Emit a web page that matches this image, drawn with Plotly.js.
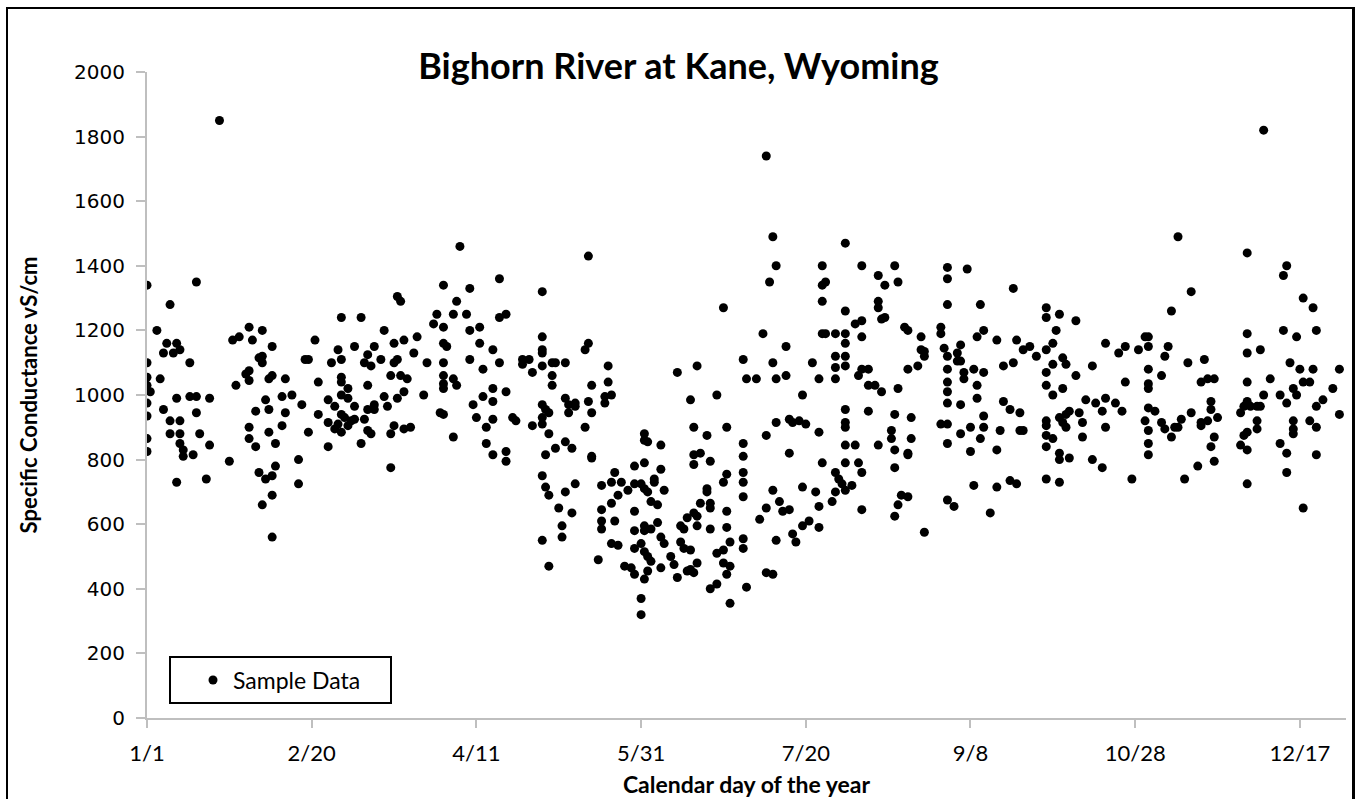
<!DOCTYPE html>
<html>
<head>
<meta charset="utf-8">
<script src="https://cdn.plot.ly/plotly-3.0.1.min.js"></script>
<style>
  html, body { margin: 0; padding: 0; background: #ffffff; }
  #wrap { position: relative; width: 1357px; height: 799px; overflow: hidden; }
  #chart { width: 1357px; height: 799px; }
  #frame { position: absolute; left: 6px; top: 7px; width: 1344px; height: 820px;
           border-left: 2px solid #000; border-top: 2px solid #000; border-right: 3px solid #000;
           pointer-events: none; }
</style>
</head>
<body>
<div id="wrap">
  <div id="chart"></div>
  <div id="frame"></div>
</div>
<script>
// Calendar day of the year (1 = Jan 1) and specific conductance, in segments
const daysJanFeb = [23,1,16,8,4,7,10,6,9,11,1,14,1,5,1,2,1,10,14,16,20,6,1,16,8,11,8,11,17,1,11,12,20,1,12,15,10,19,26,27,29,32,36,33,39,35,36,36,28,31,32,32,38,39,43,37,42,45,34,38,43,42,32,32,34,38,40,40,35,37,39,39,36,39];
const condJanFeb = [1850,1340,1350,1280,1200,1160,1160,1130,1130,1140,1100,1100,1055,1050,1030,1010,975,990,995,995,990,955,935,945,920,920,880,880,880,865,850,830,845,825,810,815,730,740,795,1170,1180,1210,1200,1170,1150,1115,1120,1100,1030,1065,1075,1045,1050,1060,1050,985,995,1000,950,955,945,905,900,865,840,885,850,780,760,740,750,690,660,560];

const daysFebApr = [48,47,47,50,49,50,52,53,53,56,56,56,58,57,59,60,60,60,60,60,62,62,64,60,61,59,58,60,63,64,62,64,66,68,67,69,70,72,68,68,70,70,67,68,69,66,73,76,79,77,78,76,77,75,78,80,79,73,77,74,76,75,79,81,75,82,83,86,85,91,89,88,91,91,92,91,91,91,91,90,91];
const condFebApr = [970,800,725,885,1110,1110,1170,1040,940,915,840,985,965,1100,1140,1110,1240,1055,1040,1000,1020,990,965,940,930,910,895,885,920,925,905,1150,1240,1125,1100,1090,1150,1110,1030,955,970,955,925,890,880,850,1200,1160,1170,1305,1290,1100,1110,1060,1060,1050,1010,995,990,965,905,880,895,900,775,1130,1180,1100,1000,1340,1250,1220,1210,1160,1150,1100,1060,1035,1020,945,940];

const daysAprMay = [94,96,99,95,94,98,99,102,102,106,99,103,108,94,95,106,103,106,100,110,101,106,104,104,106,110,110,108,108,110,112,113,118,115,117,115,118,121,121,121,121,121,124,125,128,124,124,121,122,123,121,121,123,122,125,128,130,121,122,123,128,131,126,130,127,127,121,123,135,135,134,136,128,129,131,131,129,135,136,134,136,136];
const condAprMay = [870,1460,1330,1290,1250,1250,1200,1210,1160,1140,1110,1080,1100,1050,1030,1020,995,980,970,1010,930,925,900,850,815,825,795,1360,1240,1250,930,920,905,1110,1110,1095,1070,1320,1180,1140,1130,1090,1100,1100,1100,1060,1030,970,955,945,930,910,880,815,835,855,835,750,715,690,700,725,650,635,595,560,550,470,1430,1160,1140,1030,990,970,975,965,945,980,945,900,805,810];

const daysMayJul = [139,139,139,139,138,141,141,140,142,140,143,142,145,144,142,143,142,144,146,148,149,152,152,153,157,152,149,149,147,151,152,153,155,155,157,158,154,156,149,149,152,152,154,156,149,151,152,153,154,157,158,157,153,152,151,151,160,161,162,163,164,163,164,166,165,166,168,167,162,168,166,167,171,167,169,172,167,171,171,169,172,172,165,167,168,168,172,176,174,177,177,176,177,177,174,178,178,176,177,174,172,178,182,183,182,182,182,182,182,182,182,183,176];
const condMayJul = [720,645,610,585,490,1090,1040,995,1000,975,760,730,730,690,665,610,540,535,470,465,445,880,860,855,845,790,780,725,705,725,710,700,740,730,770,705,670,660,640,580,595,580,585,605,525,540,515,500,485,560,540,465,455,430,370,320,500,475,435,595,585,545,525,520,455,460,480,450,1070,1090,985,900,875,815,820,795,785,710,700,665,665,650,620,635,625,595,585,1270,1000,900,755,730,640,590,510,545,470,480,445,415,400,355,1110,1050,850,810,760,730,685,555,525,405,520];

const daysJulAug = [189,191,192,190,188,195,191,186,192,195,200,192,189,196,197,199,201,196,191,193,194,196,189,187,192,197,198,200,200,202,189,191,203,205,206,206,207,206,205,206,204,205,205,206,207,210,213,213,210,210,210,213,213,213,213,216,218,218,213,213,213,213,216,213,217,218,210,211,212,213,215,210,209,218,218,223,225,223,223,224,225,218,220,217,220,222,224,220,223,228,227,227,228,228,229,228,229,228,229];
const condJulAug = [1740,1490,1400,1350,1190,1150,1100,1050,1050,1060,1000,915,875,925,915,920,910,820,705,670,640,645,650,615,550,570,545,715,595,610,450,445,1100,1050,1400,1340,1350,1290,885,790,700,655,590,1190,1190,1190,1190,1160,1120,1085,1050,1120,1090,1260,1470,1220,1230,1180,955,915,900,845,845,790,790,760,760,740,725,705,720,700,670,645,1400,1370,1340,1290,1270,1235,1240,1080,1080,1060,1030,1030,1010,950,845,940,890,865,830,775,660,625,1020,1400,1350];

const daysAugOct = [231,232,236,236,237,237,235,232,233,233,232,232,230,232,237,244,244,250,244,254,242,242,243,244,244,244,244,244,248,242,244,244,248,247,247,248,249,249,248,251,251,244,246,252,253,255,252,255,253,253,255,255,254,257,259,259,260,259,261,264,264,265,267,269,271,261,263,266,266,267,263,265,274,274,274,274,274,274,274,274,274,274];
const condAugOct = [1210,1200,1180,1140,1135,1120,1090,1080,930,865,820,815,690,685,575,1395,1360,1390,1280,1280,1210,1190,1145,1120,1080,1040,1010,975,970,910,910,850,1155,1130,1105,1105,1070,1050,880,900,825,675,655,720,1180,1200,1080,1070,1030,990,935,900,865,635,715,830,890,1170,1090,1100,1330,1170,1140,1150,1120,980,955,945,890,890,735,725,1270,1240,1140,1070,1030,920,905,875,840,740];

const daysOctNov = [278,283,277,276,276,279,280,283,279,276,276,278,280,281,279,280,284,285,285,278,278,281,278,288,291,288,292,286,289,291,292,292,295,297,298,296,298,300,302,304,305,305,305,305,305,305,307,304,305,309,310,312,313,314,315,305,305,310,309,311,312,314,318,317,316,318,320];
const condOctNov = [1250,1230,1200,1160,1095,1115,1095,1060,1020,1000,865,930,940,950,915,900,945,915,870,820,800,805,730,800,775,1090,1160,985,975,950,990,900,975,950,1040,1130,1150,740,1140,1180,1180,1150,1080,1035,1020,960,950,920,890,915,895,870,900,900,925,850,815,1120,1060,1150,1260,1490,1320,1100,740,945,780];

const daysNovDec = [340,335,347,346,352,355,335,335,339,346,350,356,322,321,323,325,324,324,326,323,321,321,325,324,325,335,335,334,333,336,338,339,340,342,338,338,335,334,333,335,335,348,351,355,352,354,349,350,345,347,361,363,358,356,363,349,349,349,354,356,345,347,356,347,352];
const condNovDec = [1820,1440,1400,1370,1300,1270,1190,1130,1140,1200,1180,1200,1110,1040,1050,1050,980,955,930,920,915,905,870,840,795,1040,980,965,945,965,965,965,1000,1050,920,895,885,875,845,830,725,1100,1080,1080,1040,1040,1020,1000,1000,975,1020,1080,985,965,940,920,895,880,920,900,850,820,815,760,650];

// Axis ticks: every 50 days, labelled by month/day
const tickDays = [1, 51, 101, 151, 201, 251, 301, 351];
const tickLabels = ['1/1', '2/20', '4/11', '5/31', '7/20', '9/8', '10/28', '12/17'];

const allDays = [].concat(daysJanFeb, daysFebApr, daysAprMay, daysMayJul, daysJulAug, daysAugOct, daysOctNov, daysNovDec);
const allCond = [].concat(condJanFeb, condFebApr, condAprMay, condMayJul, condJulAug, condAugOct, condOctNov, condNovDec);

const axisGray = '#bfbfbf';
const fontFam = 'Lato, "Open Sans", sans-serif';
const numFam = '"DejaVu Sans", Verdana, sans-serif';

const trace = {
  type: 'scatter',
  mode: 'markers',
  name: 'Sample Data',
  x: allDays,
  y: allCond,
  marker: { color: '#000000', size: 9, line: { width: 0 } },
  hoverinfo: 'x+y'
};

const layout = {
  width: 1357,
  height: 799,
  margin: { l: 147, r: 11, t: 72, b: 81, pad: 0 },
  paper_bgcolor: '#ffffff',
  plot_bgcolor: '#ffffff',
  font: { family: fontFam, color: '#000000' },
  title: {
    text: 'Bighorn River at Kane, Wyoming',
    font: { family: fontFam, size: 36, weight: 700, color: '#000000' },
    xref: 'container', x: 0.5, xanchor: 'center',
    yref: 'container', y: 1 - 66 / 799, yanchor: 'middle'
  },
  xaxis: {
    range: [1, 365],
    tickmode: 'array',
    tickvals: tickDays,
    ticktext: tickLabels,
    ticks: 'outside', ticklen: 8, tickwidth: 2, tickcolor: axisGray,
    showline: true, linecolor: axisGray, linewidth: 2,
    showgrid: false, zeroline: false,
    tickfont: { family: fontFam, size: 22, color: '#000000' },
    ticklabelstandoff: 7,
    title: { text: 'Calendar day of the year', font: { family: fontFam, size: 23, weight: 700, color: '#000000' }, standoff: 11 }
  },
  yaxis: {
    range: [0, 2000],
    dtick: 200, tick0: 0,
    ticks: 'outside', ticklen: 9, tickwidth: 2, tickcolor: axisGray,
    showline: true, linecolor: axisGray, linewidth: 2,
    showgrid: false, zeroline: false,
    tickfont: { family: numFam, size: 20, color: '#000000' },
    ticklabelstandoff: 7,
    title: { text: 'Specific Conductance vS/cm', font: { family: fontFam, size: 22, weight: 700, color: '#000000' }, standoff: 30 }
  },
  showlegend: true,
  legend: {
    x: (193 - 147) / 1199, xanchor: 'left',
    y: (718 - 680) / 646, yanchor: 'middle',
    bgcolor: 'rgba(0,0,0,0)', borderwidth: 0,
    font: { family: fontFam, size: 23, color: '#000000' }
  },
  shapes: [{
    type: 'rect', xref: 'paper', yref: 'paper',
    x0: (170 - 147) / 1199, x1: (391 - 147) / 1199,
    y0: (718 - 703) / 646, y1: (718 - 657) / 646,
    line: { color: '#000000', width: 2 }, fillcolor: '#ffffff', layer: 'below'
  }]
};

Plotly.newPlot('chart', [trace], layout, { displayModeBar: false });
</script>
</body>
</html>
